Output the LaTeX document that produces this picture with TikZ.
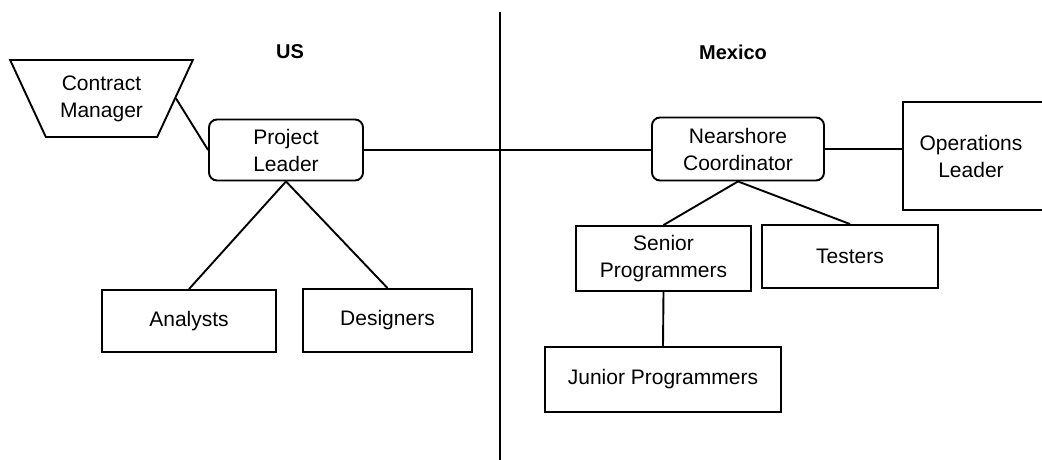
\documentclass[tikz,border=0pt]{standalone}
\usepackage{fontspec}
\setmainfont{Liberation Sans}
\usetikzlibrary{shapes.geometric}
\begin{document}
\begin{tikzpicture}[x=1pt,y=-1pt,
  every node/.style={font=\fontsize{21}{27}\selectfont, align=center, inner sep=0pt},
  box/.style={draw, line width=1.9pt},
  rbox/.style={box, rounded corners=8pt},
  conn/.style={line width=1.9pt},
  region/.style={font=\fontsize{20}{26}\selectfont\bfseries}]
\clip (0,0) rectangle (1042,460);
\fill[white] (0,0) rectangle (1042,460);
% divider
\coordinate (divtop) at (500,12);
\coordinate (divbot) at (500,462);
\draw[conn] (divtop) -- (divbot);
% region labels
\node[region] (us) at (290,52) {US};
\node[region] (mx) at (733,52) {Mexico};
% nodes
\node[box, shape=trapezium, trapezium angle=60, shape border rotate=180,
      trapezium stretches=true, minimum width=183pt, minimum height=77pt]
      (cm) at (101.5,98.5) {Contract\\Manager};
\node[rbox, minimum width=154pt, minimum height=61pt] (pl) at (286,150) {Project\\Leader};
\node[box, minimum width=174pt, minimum height=62pt] (an) at (189,321) {Analysts};
\node[box, minimum width=169pt, minimum height=63pt] (de) at (387.5,320.5) {Designers};
\node[rbox, minimum width=172pt, minimum height=63pt] (nc) at (738,149) {Nearshore\\Coordinator};
\node[box, minimum width=144pt, minimum height=108pt, text width=144pt] (ol) at (975,156) {\hspace*{-8pt}Operations\\\hspace*{-8pt}Leader};
\node[box, minimum width=175pt, minimum height=65pt] (sp) at (663.5,258.5) {Senior\\Programmers};
\node[box, minimum width=176pt, minimum height=63pt] (te) at (850,256.5) {Testers};
\node[box, minimum width=236pt, minimum height=65pt] (jp) at (663,379.5) {Junior Programmers};
% connectors
\draw[conn] (cm.east) -- (pl.west);
\draw[conn] (pl.east) -- (pl.east -| nc.west);
\draw[conn] (nc.east) -- (nc.east -| ol.west);
\draw[conn] (pl.south) -- (an.north);
\draw[conn] (pl.south) -- (de.north);
\draw[conn] (nc.south) -- (sp.north);
\draw[conn] (nc.south) -- (te.north);
\draw[conn] (sp.south) -- (jp.north);
\end{tikzpicture}
\end{document}
